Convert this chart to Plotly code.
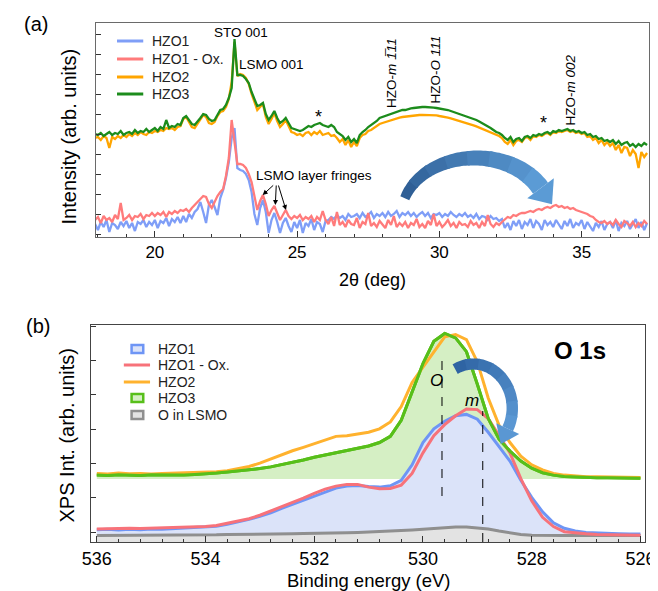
import numpy as np
import plotly.graph_objects as go

W, H = 658, 591
FONT = "Liberation Sans, Arial, sans-serif"

# ---------------- Panel (a): XRD ----------------
two_theta = np.round(17.9 + 0.1 * np.arange(195), 1)

hzo1_xrd = [0.5,
    0.2,0.6,0.35,0.7,0.1,0.55,0.45,0.25,0.6,0.4,
    0.65,0.3,0.55,0.15,0.6,0.5,0.7,0.35,0.6,0.45,
    0.7,0.3,0.65,0.55,0.8,0.4,0.75,0.6,0.85,0.55,
    0.9,0.6,1.0,0.8,1.1,1.25,1.6,1.1,0.55,1.45,
    1.7,1.35,0.95,1.8,2.2,2.8,3.6,4.8,5.3,3.3,
    3.2,3.15,3.0,2.7,2.1,1.0,0.45,1.3,1.7,1.1,
    0.05,0.7,1.05,0.6,0.05,0.55,0.8,0.4,0.1,0.6,
    0.3,0.7,0.05,0.55,0.4,0.75,0.2,0.6,0.5,0.1,
    0.65,0.7,0.85,0.75,0.95,0.8,0.9,0.7,1.0,0.85,
    0.9,1.0,0.8,1.05,0.85,0.95,1.1,0.8,1.0,0.9,
    1.05,0.85,1.1,0.9,1.0,1.15,0.85,1.05,0.95,1.1,
    0.9,1.05,0.85,1.0,1.1,0.9,1.05,0.8,1.0,0.95,
    1.05,0.85,1.0,0.9,1.1,0.95,0.85,1.0,0.9,1.05,
    0.85,0.95,0.8,1.0,0.75,0.9,0.85,0.7,0.9,0.75,
    0.8,0.65,0.75,0.3,0.55,0.2,0.65,0.4,0.7,0.25,
    0.6,0.45,0.75,0.3,0.65,0.5,0.2,0.7,0.45,0.6,
    0.35,0.7,0.5,0.25,0.65,0.4,0.75,0.3,0.55,0.45,
    0.7,0.25,0.6,0.4,0.15,0.55,0.35,0.65,0.2,0.5,
    0.6,0.3,0.7,0.15,0.55,0.4,0.65,0.25,0.5,0.75,
    0.3,0.6,0.2,0.55]

hzo1ox_xrd = [0.7,
    0.85,0.55,0.9,0.7,0.8,0.6,0.95,0.75,1.55,0.7,
    0.8,0.95,0.7,0.9,0.85,1.0,0.75,0.95,0.9,1.05,
    0.9,1.05,0.95,1.1,0.85,1.1,1.0,1.15,1.05,1.2,
    1.15,1.25,1.1,1.3,1.45,1.6,1.75,1.9,1.85,1.5,
    1.3,1.6,1.9,2.1,2.25,2.9,3.8,5.7,4.6,3.5,
    3.5,3.45,3.3,3.0,2.6,1.9,1.2,1.65,1.95,1.5,
    0.9,1.2,1.4,1.05,0.7,0.95,1.2,0.9,0.75,0.9,
    0.8,0.95,0.7,0.85,0.75,0.9,0.6,0.85,0.7,1.15,
    0.7,0.5,0.85,0.4,1.1,0.45,0.6,0.35,0.7,0.5,
    0.45,0.8,0.3,0.6,0.5,1.05,0.4,0.55,0.35,0.65,
    0.5,0.3,0.7,0.45,0.9,0.35,0.55,0.4,0.6,0.3,
    0.55,0.45,0.75,0.35,0.5,0.3,0.65,0.45,1.0,0.4,
    0.6,0.35,0.5,0.7,0.4,0.55,0.3,0.6,0.45,0.5,
    0.35,0.65,0.45,0.55,0.3,0.6,0.4,0.95,0.5,0.35,
    0.55,0.45,0.6,0.75,0.85,0.8,0.95,0.9,1.0,1.05,
    1.05,1.1,1.15,1.1,1.2,1.25,1.2,1.3,1.35,1.3,
    1.4,1.45,1.35,1.4,1.3,1.35,1.25,1.3,1.2,1.15,
    1.1,1.05,1.0,0.9,0.85,0.7,0.6,0.55,0.65,0.5,
    0.6,0.45,0.7,0.5,0.35,0.65,0.55,0.4,0.6,0.35,
    0.55,0.4,0.65,0.5]

hzo2_xrd = [4.8,
    4.85,4.7,4.9,4.8,4.3,4.85,4.75,4.9,4.8,4.95,
    4.85,5.0,4.9,5.05,4.95,5.1,5.0,4.95,5.1,5.05,
    5.15,5.1,5.2,5.15,5.3,5.25,5.3,5.2,5.35,5.4,
    5.75,5.85,5.6,5.35,5.3,5.5,5.75,5.95,5.85,5.55,
    5.5,5.6,5.9,6.1,6.15,6.35,6.75,7.6,9.6,7.9,
    8.0,7.95,7.8,7.5,7.0,6.55,6.2,6.35,6.5,5.85,
    5.5,5.75,6.05,5.65,5.35,5.5,5.7,5.4,5.1,5.05,
    4.95,5.0,4.9,5.05,5.1,4.95,5.1,5.0,5.15,4.95,
    5.0,5.05,4.9,4.95,4.8,4.6,4.75,4.45,4.7,4.35,
    4.6,4.4,4.8,4.95,5.0,5.15,5.2,5.3,5.4,5.5,
    5.55,5.6,5.65,5.7,5.75,5.78,5.82,5.85,5.87,5.9,
    5.92,5.93,5.95,5.95,5.96,5.96,5.95,5.95,5.94,5.93,
    5.9,5.88,5.85,5.82,5.78,5.74,5.7,5.66,5.62,5.58,
    5.53,5.48,5.43,5.38,5.32,5.25,5.2,5.15,5.1,5.02,
    4.95,4.9,4.8,4.6,4.5,4.7,4.45,4.65,4.7,4.6,
    4.8,4.85,4.7,4.9,4.85,4.95,4.9,5.0,5.05,4.95,
    5.1,5.05,5.15,5.1,5.15,5.2,5.1,5.15,5.05,5.1,
    5.0,5.05,4.85,4.9,4.7,4.8,4.55,4.7,4.45,4.6,
    4.4,4.55,4.2,4.45,4.05,4.35,4.3,3.9,4.2,4.0,
    3.3,4.1,3.85,4.05]

hzo3_xrd = [5.0,
    4.95,5.05,4.9,5.0,5.1,4.95,5.05,5.0,5.15,4.95,
    5.05,5.1,5.0,5.2,5.05,5.15,5.1,5.25,5.1,5.2,
    5.3,5.15,5.35,5.25,5.7,5.3,5.4,5.35,5.5,5.45,
    5.8,5.9,5.7,5.5,5.45,5.6,5.8,6.0,5.95,5.75,
    5.65,5.7,5.95,6.2,6.25,6.45,6.8,7.3,9.75,7.95,
    7.95,7.9,7.75,7.55,7.1,6.7,6.4,6.45,6.55,6.0,
    5.7,5.9,6.15,5.8,5.55,5.65,5.8,5.55,5.3,5.25,
    5.2,5.15,5.2,5.3,5.4,5.35,5.45,5.5,5.55,5.45,
    5.4,5.35,5.45,5.35,5.1,5.0,4.9,4.7,4.85,4.6,
    4.75,4.55,4.95,5.1,5.2,5.35,5.45,5.55,5.65,5.8,
    5.85,5.9,5.95,6.0,6.05,6.1,6.15,6.2,6.2,6.25,
    6.28,6.3,6.32,6.35,6.35,6.35,6.35,6.33,6.32,6.3,
    6.28,6.25,6.22,6.2,6.15,6.1,6.05,6.0,5.97,5.92,
    5.88,5.82,5.77,5.7,5.62,5.55,5.45,5.4,5.3,5.2,
    5.1,5.05,4.95,4.8,4.7,4.85,4.6,4.75,4.8,4.65,
    4.85,4.9,4.8,4.95,4.9,5.0,4.95,5.05,5.1,5.0,
    5.15,5.1,5.2,5.15,5.2,5.25,5.15,5.2,5.1,5.15,
    5.05,5.1,4.95,5.0,4.85,4.9,4.75,4.8,4.65,4.7,
    4.6,4.7,4.5,4.65,4.45,4.55,4.6,4.4,4.5,4.35,
    4.5,4.4,4.55,4.45]

xrd_names = ["HZO1", "HZO1 - Ox.", "HZO2", "HZO3"]
xrd_colors = ["#7f9ef7", "#ff7b7b", "#ffa500", "#1c8c1c"]
xrd_series = [hzo1_xrd, hzo1ox_xrd, hzo2_xrd, hzo3_xrd]
xrd_ticks = [20, 25, 30, 35]

# ---------------- Panel (b): XPS O 1s ----------------
binding_energy = np.round(536.0 - 0.2 * np.arange(51), 1)

hzo1_xps = [0.36,0.37,0.35,0.37,0.36,0.38,0.37,0.39,0.4,0.41,
    0.43,0.46,0.52,0.58,0.66,0.75,0.85,0.98,1.1,1.22,
    1.35,1.47,1.57,1.63,1.65,1.62,1.6,1.64,1.8,2.25,
    2.9,3.3,3.52,3.68,3.72,3.58,3.2,2.78,2.36,1.8,
    1.3,0.88,0.56,0.4,0.32,0.28,0.26,0.25,0.24,0.23,
    0.23]
hzo1ox_xps = [0.38,0.39,0.38,0.4,0.39,0.4,0.39,0.41,0.42,0.42,
    0.45,0.48,0.54,0.6,0.68,0.78,0.9,1.03,1.16,1.28,
    1.42,1.54,1.63,1.68,1.68,1.6,1.55,1.56,1.66,2.0,
    2.6,3.1,3.42,3.68,3.88,3.86,3.6,3.1,2.6,1.85,
    1.2,0.72,0.45,0.3,0.26,0.24,0.22,0.22,0.21,0.21,
    0.2]
hzo2_xps = [2.0,1.98,2.01,1.99,2.0,1.98,2.0,2.01,2.0,2.02,
    2.03,2.05,2.08,2.13,2.2,2.3,2.42,2.55,2.66,2.76,
    2.86,2.98,3.08,3.1,3.14,3.2,3.3,3.5,3.95,4.65,
    5.1,5.55,5.98,6.05,5.9,5.25,4.2,3.4,2.9,2.5,
    2.25,2.1,2.0,1.95,1.92,1.9,1.9,1.89,1.88,1.89,
    1.88]
hzo3_xps = [1.95,1.94,1.96,1.95,1.94,1.96,1.95,1.96,1.95,1.97,
    1.98,2.01,2.04,2.07,2.1,2.14,2.19,2.25,2.32,2.39,
    2.47,2.54,2.61,2.67,2.73,2.8,2.9,3.08,3.55,4.35,
    5.2,5.85,6.08,5.95,5.55,4.6,3.6,3.0,2.65,2.36,
    2.15,2.02,1.95,1.91,1.89,1.88,1.87,1.87,1.86,1.86,
    1.86]
lsmo_xps = [0.19,0.19,0.19,0.2,0.2,0.2,0.2,0.2,0.21,0.21,
    0.21,0.21,0.22,0.22,0.22,0.23,0.23,0.24,0.24,0.25,
    0.25,0.26,0.27,0.27,0.28,0.29,0.3,0.31,0.33,0.35,
    0.37,0.4,0.42,0.44,0.44,0.42,0.38,0.32,0.26,0.22,
    0.2,0.19,0.19,0.19,0.19,0.19,0.19,0.19,0.19,0.19,
    0.19]
hzo3_fill_base = 1.84
peak_o, peak_m = 529.65, 528.9
xps_names = ["HZO1", "HZO1 - Ox.", "HZO2", "HZO3", "O in LSMO"]

for s in xrd_series:
    assert len(s) == len(two_theta)
for s in [hzo1_xps, hzo1ox_xps, hzo2_xps, hzo3_xps, lsmo_xps]:
    assert len(s) == len(binding_energy)

# ---------------- helpers ----------------
def P(px, py):
    return px / W, 1 - py / H

def ann(px, py, text, size, **kw):
    x, y = P(px, py)
    d = dict(x=x, y=y, xref="paper", yref="paper", text=text, showarrow=False,
             font=dict(size=size, color="black", family=FONT),
             xanchor="center", yanchor="middle")
    d.update(kw)
    return d

def hex2rgb(h):
    h = h.lstrip("#")
    return [int(h[i:i + 2], 16) for i in (0, 2, 4)]

def mix(c0, c1, t):
    a, b = hex2rgb(c0), hex2rgb(c1)
    return "rgb(%d,%d,%d)" % tuple(round(a[i] + (b[i] - a[i]) * t) for i in range(3))

def path_shape(pts, color):
    s = "M " + " L ".join("%.4f,%.4f" % P(x, y) for x, y in pts) + " Z"
    return dict(type="path", path=s, xref="paper", yref="paper",
                fillcolor=color, line=dict(width=0), layer="above")

def arc_arrow(cx, cy, rx, ry, th0, th1, w0, w1, head_w, head_len, c0, c1, nseg=8, npts=80):
    th = np.radians(np.linspace(th0, th1, npts))
    xs = cx + rx * np.cos(th)
    ys = cy - ry * np.sin(th)
    dx, dy = np.gradient(xs), np.gradient(ys)
    L = np.hypot(dx, dy)
    dx, dy = dx / L, dy / L
    nx, ny = -dy, dx
    w = np.linspace(w0, w1, npts)
    ox, oy = xs + nx * w / 2, ys + ny * w / 2
    ix, iy = xs - nx * w / 2, ys - ny * w / 2
    out = []
    b = np.linspace(0, npts - 1, nseg + 1).astype(int)
    for k in range(nseg):
        a0, a1 = b[k], min(b[k + 1] + 1, npts - 1)
        pts = list(zip(ox[a0:a1 + 1], oy[a0:a1 + 1])) + list(zip(ix[a0:a1 + 1], iy[a0:a1 + 1]))[::-1]
        out.append(path_shape(pts, mix(c0, c1, k / (nseg - 1))))
    ex, ey = xs[-1], ys[-1]
    hx, hy = nx[-1] * head_w / 2, ny[-1] * head_w / 2
    pts = [(ex + hx, ey + hy), (ex + dx[-1] * head_len, ey + dy[-1] * head_len), (ex - hx, ey - hy)]
    out.append(path_shape(pts, c1))
    return out

def leg_line(px0, px1, py, color, width):
    x0, y = P(px0, py)
    x1, _ = P(px1, py)
    return dict(type="line", xref="paper", yref="paper", x0=x0, x1=x1, y0=y, y1=y,
                line=dict(color=color, width=width), layer="above")

def leg_box(px0, px1, py, h, fill, border):
    x0, y0 = P(px0, py + h / 2)
    x1, y1 = P(px1, py - h / 2)
    return dict(type="rect", xref="paper", yref="paper", x0=x0, x1=x1, y0=y0, y1=y1,
                fillcolor=fill, line=dict(color=border, width=2.5), layer="above")

# ---------------- figure ----------------
fig = go.Figure()

for name, col, ys in zip(xrd_names, xrd_colors, xrd_series):
    fig.add_trace(go.Scatter(x=two_theta, y=ys, mode="lines", name=name,
                             line=dict(color=col, width=2.3), xaxis="x", yaxis="y"))

C_B = dict(blue="#6e95f5", red="#f7727a", orange="#ffb22e", green="#57bf1a", gray="#8f8f8f")
F_B = dict(blue="#dbe3f9", green="#d5efc4", gray="#e3e3e3")

fig.add_trace(go.Scatter(x=binding_energy, y=[hzo3_fill_base] * len(binding_energy),
                         mode="lines", line=dict(width=0), hoverinfo="skip", name="base",
                         xaxis="x2", yaxis="y2"))
fig.add_trace(go.Scatter(x=binding_energy, y=hzo3_xps, mode="lines", name="HZO3",
                         fill="tonexty", fillcolor=F_B["green"], line=dict(color=C_B["green"], width=3),
                         xaxis="x2", yaxis="y2"))
fig.add_trace(go.Scatter(x=binding_energy, y=hzo1_xps, mode="lines", name="HZO1",
                         fill="tozeroy", fillcolor=F_B["blue"], line=dict(color=C_B["blue"], width=3),
                         xaxis="x2", yaxis="y2"))
fig.add_trace(go.Scatter(x=binding_energy, y=lsmo_xps, mode="lines", name="O in LSMO",
                         fill="tozeroy", fillcolor=F_B["gray"], line=dict(color=C_B["gray"], width=3),
                         xaxis="x2", yaxis="y2"))
fig.add_trace(go.Scatter(x=binding_energy, y=hzo1ox_xps, mode="lines", name="HZO1 - Ox.",
                         line=dict(color=C_B["red"], width=3), xaxis="x2", yaxis="y2"))
fig.add_trace(go.Scatter(x=binding_energy, y=hzo2_xps, mode="lines", name="HZO2",
                         line=dict(color=C_B["orange"], width=3), xaxis="x2", yaxis="y2"))
fig.add_trace(go.Scatter(x=binding_energy, y=hzo3_xps, mode="lines", name="HZO3 line",
                         line=dict(color=C_B["green"], width=3), xaxis="x2", yaxis="y2"))

axis_common = dict(showgrid=False, zeroline=False, showline=True, mirror=True, linewidth=1,
                   ticks="inside", tickwidth=1, tickcolor="#333",
                   tickfont=dict(size=17, family=FONT, color="black"))

fig.update_layout(
    width=W, height=H, margin=dict(l=0, r=0, t=0, b=0),
    paper_bgcolor="white", plot_bgcolor="white", showlegend=False,
    xaxis=dict(axis_common, domain=[81 / W, 651 / W], range=[17.92, 37.375], anchor="y",
               linecolor="#6a6a6a", tickvals=xrd_ticks, ticklen=6,
               minor=dict(ticks="inside", ticklen=3, dtick=1, tickcolor="#333")),
    yaxis=dict(axis_common, domain=[1 - 229 / H, 1 - 15 / H], range=[-0.15, 10.55], anchor="x",
               linecolor="#6a6a6a", tick0=0, dtick=1, ticklen=5, showticklabels=False),
    xaxis2=dict(axis_common, domain=[76 / W, 647 / W], range=[536.11, 525.91], anchor="y2",
                linecolor="#444", tick0=0, dtick=2, ticklen=6, tickformat="d",
                tickfont=dict(size=18, family=FONT, color="black"),
                minor=dict(ticks="inside", ticklen=3, dtick=0.4, tickcolor="#333")),
    yaxis2=dict(axis_common, domain=[1 - 534 / H, 1 - 317 / H], range=[0, 6.327], anchor="x2",
                linecolor="#444", tick0=10 / 34.3, dtick=1, ticklen=5, showticklabels=False),
)

annotations = [
    ann(20, 16, "(a)", 20),
    ann(22, 318, "(b)", 20),
    ann(54, 128, "Intensity (arb. units)", 20, textangle=-90),
    ann(52, 427, "XPS Int. (arb. units)", 20, textangle=-90),
    ann(366, 272, "2θ (deg)", 18),
    ann(362, 572, "Binding energy (eV)", 18.5),
    ann(231, 24, "STO 001", 13.5),
    ann(262, 57, "LSMO 001", 13.5),
    ann(310, 109, "*", 18),
    ann(542, 115, "*", 18),
    ann(385, 65, "HZO-<i>m</i> <i>1̅11</i>", 13.5, textangle=-90),
    ann(430, 62, "HZO-<i>O</i> <i>111</i>", 13.5, textangle=-90),
    ann(569, 82, "HZO-<i>m</i> <i>002</i>", 13.5, textangle=-90),
    ann(306, 168, "LSMO layer fringes", 13.5),
    ann(580, 342, "<b>O 1s</b>", 24),
    ann(432, 372, "<i>O</i>", 17),
    ann(469, 392, "<i>m</i>", 17),
]
for hx, hy, ax, ay in [(253, 187, 12, -11), (266, 197, 1, -21), (277, 202, -8, -26)]:
    x, y = P(hx, hy)
    annotations.append(dict(x=x, y=y, xref="paper", yref="paper", text="", showarrow=True,
                            ax=ax, ay=ay, arrowhead=2, arrowsize=1, arrowwidth=1,
                            arrowcolor="black"))

shapes = []
# legend (a)
for name, col, py in zip(xrd_names, xrd_colors, [33, 51, 69, 86]):
    shapes.append(leg_line(103, 130, py, col, 3))
    annotations.append(ann(137, py, name, 14, xanchor="left", font=dict(size=14, family=FONT, color="#222")))
# legend (b)
leg_b = [("box", C_B["blue"], F_B["blue"]), ("line", C_B["red"], None), ("line", C_B["orange"], None),
         ("box", C_B["green"], F_B["green"]), ("box", C_B["gray"], F_B["gray"])]
for name, (kind, col, fill), py in zip(xps_names, leg_b, [341, 357, 374, 390, 407]):
    if kind == "box":
        shapes.append(leg_box(118, 130, py, 8, fill, col))
    else:
        shapes.append(leg_line(110, 137, py, col, 3))
    annotations.append(ann(143, py, name, 14, xanchor="left", font=dict(size=14, family=FONT, color="#222")))

shapes += arc_arrow(472, 207, 76, 57, 163, 28, 10, 19, 34, 20, "#2f5f96", "#5b9bd5")
shapes += arc_arrow(470, 400, 40, 44, 118, -28, 11, 12, 26, 17, "#2f64a3", "#5a97d3")
shapes.append(dict(type="line", xref="x2", yref="y2", x0=peak_o, x1=peak_o,
                   y0=(534 - 488) / 34.3, y1=(534 - 348) / 34.3,
                   line=dict(color="black", width=1, dash="dash"), layer="above"))
shapes.append(dict(type="line", xref="x2", yref="y2", x0=peak_m, x1=peak_m,
                   y0=0, y1=(534 - 403) / 34.3,
                   line=dict(color="black", width=1, dash="dash"), layer="above"))

fig.update_layout(annotations=annotations, shapes=shapes)

fig.write_html("out.html")
